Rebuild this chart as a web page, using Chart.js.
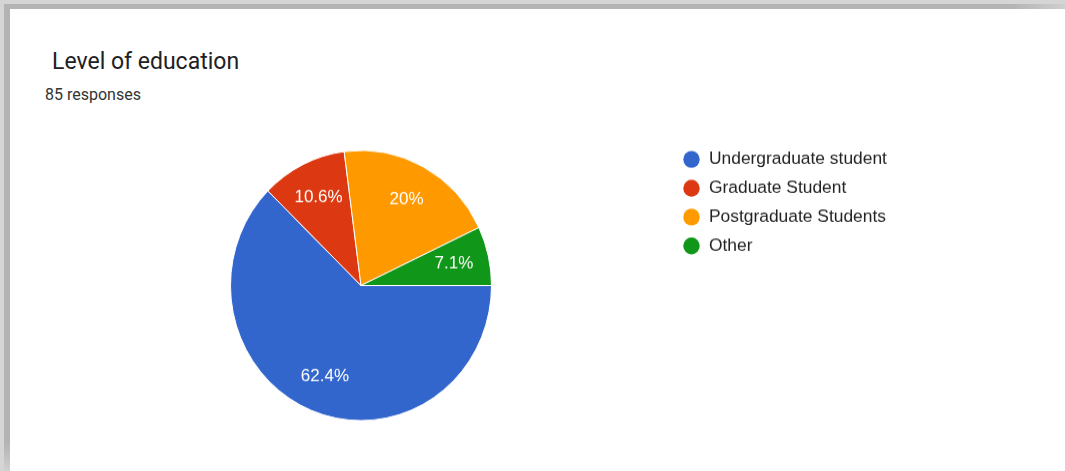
<!DOCTYPE html>
<html>
<head>
<meta charset="utf-8">
<title>Level of education</title>
<script src="https://cdn.jsdelivr.net/npm/chart.js@4.4.1/dist/chart.umd.min.js"></script>
<style>
    html, body { margin: 0; padding: 0; background: #fff; }
    body { width: 1065px; height: 471px; position: relative; overflow: hidden; }
    /* the pie is a touch taller than wide */
    #chart { position: absolute; left: 0; top: 0; transform-origin: 0 285.5px; transform: scaleY(1.035); }
    .edge { position: absolute; }
    .edge-top-outer { left: 0; top: 0; width: 1065px; height: 4px; background: #d5d5d5; }
    .edge-top-inner { left: 4px; top: 4px; width: 1061px; height: 5px;
        background: linear-gradient(to right, #b4b4b4 0%, #b4b4b4 95%, #cfcfcf 100%); }
    .edge-left-outer { left: 0; top: 0; width: 4px; height: 471px; background: #d5d5d5; }
    .edge-left-inner { left: 4px; top: 4px; width: 6px; height: 467px;
        background: linear-gradient(to bottom, #b3b3b3 0%, #b3b3b3 94%, #d0d0d0 100%); }
    .title { position: absolute; left: 52px; top: 48px; font: 23px Roboto, sans-serif; color: #202124; white-space: nowrap; }
    .subtitle { position: absolute; left: 45px; top: 85px; font: 16px Roboto, sans-serif; color: #333; white-space: nowrap; }
</style>
</head>
<body>
<div class="edge edge-top-outer"></div>
<div class="edge edge-top-inner"></div>
<div class="edge edge-left-outer"></div>
<div class="edge edge-left-inner"></div>
<div class="title">Level of education</div>
<div class="subtitle">85 responses</div>
<canvas id="chart" width="1065" height="471"></canvas>
<script>
(function () {
    'use strict';

    var categories = ['Undergraduate student', 'Graduate Student', 'Postgraduate Students', 'Other'];
    var responses = [53, 9, 17, 6];
    var sliceColors = ['#3366cc', '#dc3912', '#ff9900', '#109618'];

    var total = responses.reduce(function (a, b) { return a + b; }, 0);

    function pct(v) {
        var s = (v / total * 100).toFixed(1);
        return s.replace(/\.0$/, '') + '%';
    }

    // white percentage text inside each slice
    var sliceLabels = {
        id: 'sliceLabels',
        afterDatasetsDraw: function (chart) {
            var ctx = chart.ctx;
            var meta = chart.getDatasetMeta(0);
            ctx.save();
            ctx.font = '17px "Liberation Sans", Arial, sans-serif';
            ctx.fillStyle = '#ffffff';
            ctx.textAlign = 'center';
            ctx.textBaseline = 'middle';
            meta.data.forEach(function (arc, i) {
                var p = arc.getProps(['x', 'y', 'startAngle', 'endAngle', 'outerRadius'], true);
                var mid = (p.startAngle + p.endAngle) / 2;
                var r = p.outerRadius * 0.73;
                ctx.fillText(pct(responses[i]), p.x + Math.cos(mid) * r, p.y + Math.sin(mid) * r);
            });
            ctx.restore();
        }
    };

    // legend on the right: dot + category name
    var sideLegend = {
        id: 'sideLegend',
        afterDraw: function (chart) {
            var ctx = chart.ctx;
            var x0 = 691.5, y0 = 163.6, step = 27.9;
            ctx.save();
            ctx.font = '17.4px "Liberation Sans", Arial, sans-serif';
            ctx.textAlign = 'left';
            ctx.textBaseline = 'middle';
            categories.forEach(function (name, i) {
                var y = y0 + i * step;
                ctx.beginPath();
                ctx.arc(x0, y, 8.2, 0, Math.PI * 2);
                ctx.fillStyle = sliceColors[i];
                ctx.fill();
                ctx.fillStyle = '#222222';
                ctx.fillText(name, x0 + 17.5, y);
            });
            ctx.restore();
        }
    };

    new Chart(document.getElementById('chart').getContext('2d'), {
        type: 'pie',
        data: {
            labels: categories,
            datasets: [{
                data: responses,
                backgroundColor: sliceColors,
                borderColor: '#ffffff',
                borderWidth: 1
            }]
        },
        options: {
            responsive: false,
            animation: false,
            rotation: 90,
            layout: { padding: { left: 230, right: 573, top: 154.5, bottom: 54.5 } },
            plugins: {
                legend: { display: false },
                tooltip: { enabled: false }
            }
        },
        plugins: [sliceLabels, sideLegend]
    });
})();
</script>
</body>
</html>
